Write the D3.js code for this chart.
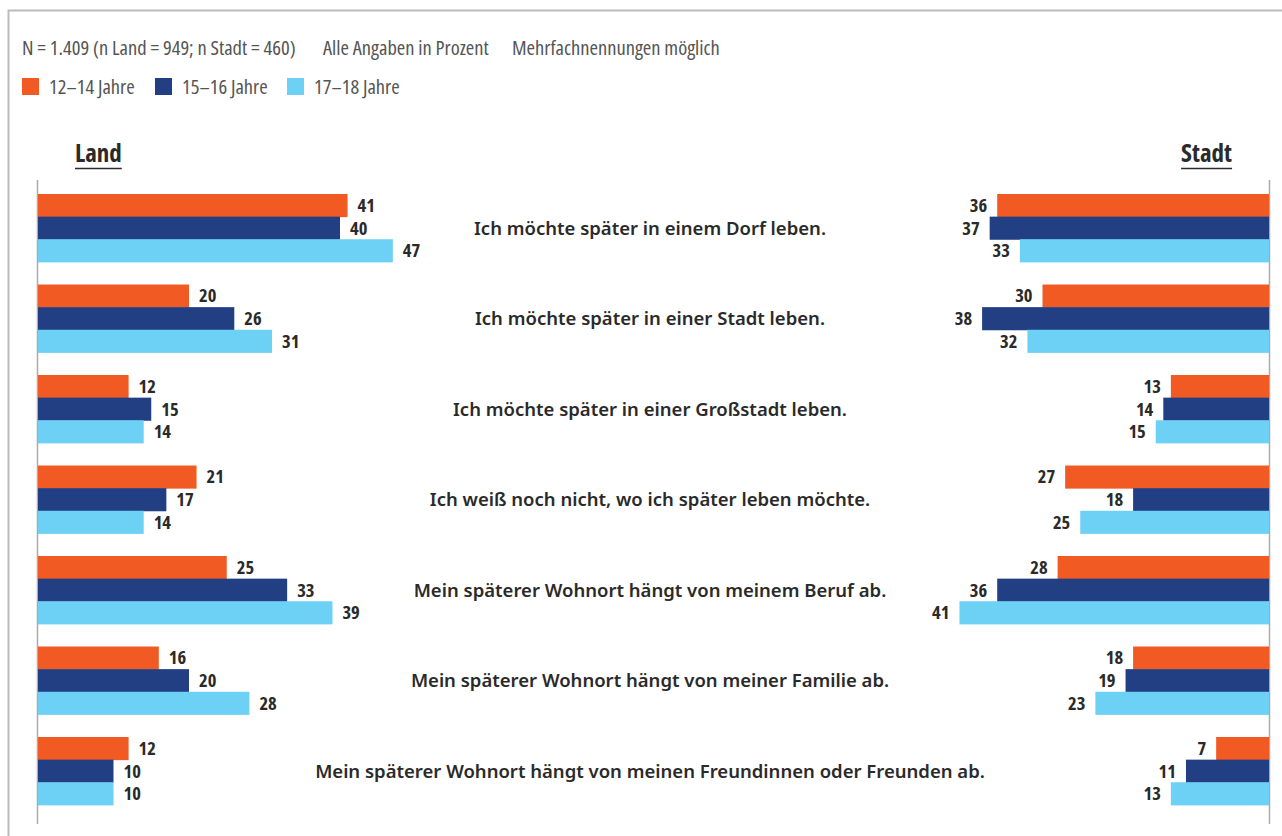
<!DOCTYPE html>
<html>
<head>
<meta charset="utf-8">
<script src="https://cdn.jsdelivr.net/npm/d3@7"></script>
<style>
  body { margin: 0; background: #fff; }
  svg { display: block; }
  .cond { font-family: "Open Sans", "Liberation Sans Narrow", "DejaVu Sans Condensed", sans-serif; font-stretch: condensed; }
  .note { font-size: 20.5px; fill: #555; }
  .val { font-size: 18.5px; font-weight: 700; fill: #2a2a2a; }
  .head { font-size: 25px; font-weight: 700; fill: #2a2a2a; }
  .cat { font-family: "Noto Sans", "Open Sans", sans-serif; font-size: 18.5px; font-weight: 600; fill: #2a2a2a; }
</style>
</head>
<body>
<svg width="1282" height="836"></svg>
<script>
// data
const categories = [
  'Ich möchte später in einem Dorf leben.',
  'Ich möchte später in einer Stadt leben.',
  'Ich möchte später in einer Großstadt leben.',
  'Ich weiß noch nicht, wo ich später leben möchte.',
  'Mein späterer Wohnort hängt von meinem Beruf ab.',
  'Mein späterer Wohnort hängt von meiner Familie ab.',
  'Mein späterer Wohnort hängt von meinen Freundinnen oder Freunden ab.'
];
const ageGroups = ['12–14 Jahre', '15–16 Jahre', '17–18 Jahre'];
const colors = ['#f15a22', '#223f84', '#6dd0f5'];

// one array per age group, in category order
const land12 = [41, 20, 12, 21, 25, 16, 12];
const land15 = [40, 26, 15, 17, 33, 20, 10];
const land17 = [47, 31, 14, 14, 39, 28, 10];
const stadt12 = [36, 30, 13, 27, 28, 18, 7];
const stadt15 = [37, 38, 14, 18, 36, 19, 11];
const stadt17 = [33, 32, 15, 25, 41, 23, 13];

const notes = ['N = 1.409 (n Land = 949; n Stadt = 460)', 'Alle Angaben in Prozent', 'Mehrfachnennungen möglich'];

const landSeries = [land12, land15, land17];
const stadtSeries = [stadt12, stadt15, stadt17];

const svg = d3.select('svg');

// frame
svg.append('path')
    .attr('d', 'M8.5,836 V10.5 H1282')
    .attr('fill', 'none')
    .attr('stroke', '#bbb')
    .attr('stroke-width', 2);

// header notes
const noteX = [22, 323, 512];
svg.selectAll('.note').data(notes)
  .enter().append('text')
    .attr('class', 'note cond')
    .attr('x', (d, i) => noteX[i])
    .attr('y', 55)
    .text(d => d);

// legend
const legendX = [22, 155, 287];
const legend = svg.selectAll('.legend').data(ageGroups)
  .enter().append('g')
    .attr('transform', (d, i) => `translate(${legendX[i]}, 78)`);
legend.append('rect')
    .attr('width', 17).attr('height', 17)
    .attr('fill', (d, i) => colors[i]);
legend.append('text')
    .attr('class', 'note cond')
    .attr('x', 27).attr('y', 16)
    .text(d => d);

// scales
const y = d3.scaleBand()
    .domain(categories)
    .range([182.7, 816.2])
    .paddingInner(0.25)
    .paddingOuter(0.125);
const ySub = d3.scaleBand()
    .domain(d3.range(3))
    .range([0, y.bandwidth()]);
const w = d3.scaleLinear().domain([0, 100]).range([0, 755]);

const leftX = 38, rightX = 1269;

// axis lines
svg.append('line')
    .attr('x1', leftX - 0.5).attr('x2', leftX - 0.5)
    .attr('y1', 180).attr('y2', 824)
    .attr('stroke', '#aaa').attr('stroke-width', 1.5);
svg.append('line')
    .attr('x1', rightX + 0.5).attr('x2', rightX + 0.5)
    .attr('y1', 180).attr('y2', 824)
    .attr('stroke', '#aaa').attr('stroke-width', 1.5);

// side titles
const heads = [
  { text: 'Land', x: 75, anchor: 'start' },
  { text: 'Stadt', x: 1232, anchor: 'end' }
];
heads.forEach(h => {
  const t = svg.append('text')
      .attr('class', 'head cond')
      .attr('x', h.x).attr('y', 162)
      .attr('text-anchor', h.anchor)
      .text(h.text);
  const bb = t.node().getBBox();
  svg.append('line')
      .attr('x1', bb.x).attr('x2', bb.x + bb.width)
      .attr('y1', 168.5).attr('y2', 168.5)
      .attr('stroke', '#2a2a2a').attr('stroke-width', 1.5);
});

// bars
const groups = svg.selectAll('.grp').data(categories)
  .enter().append('g')
    .attr('transform', d => `translate(0, ${y(d)})`);

groups.each(function(cat, ci) {
  const g = d3.select(this);
  landSeries.forEach((s, si) => {
    const v = s[ci];
    g.append('rect')
        .attr('x', leftX)
        .attr('y', ySub(si))
        .attr('width', w(v))
        .attr('height', ySub.bandwidth() + 0.5)
        .attr('fill', colors[si]);
    g.append('text')
        .attr('class', 'val cond')
        .attr('x', leftX + w(v) + 10)
        .attr('y', ySub(si) + ySub.bandwidth() / 2)
        .attr('dy', '0.36em')
        .text(v);
  });
  stadtSeries.forEach((s, si) => {
    const v = s[ci];
    g.append('rect')
        .attr('x', rightX - w(v))
        .attr('y', ySub(si))
        .attr('width', w(v))
        .attr('height', ySub.bandwidth() + 0.5)
        .attr('fill', colors[si]);
    g.append('text')
        .attr('class', 'val cond')
        .attr('x', rightX - w(v) - 10)
        .attr('y', ySub(si) + ySub.bandwidth() / 2)
        .attr('dy', '0.36em')
        .attr('text-anchor', 'end')
        .text(v);
  });
  g.append('text')
      .attr('class', 'cat')
      .attr('x', 650)
      .attr('y', y.bandwidth() / 2)
      .attr('dy', '0.36em')
      .attr('text-anchor', 'middle')
      .text(cat);
});
</script>
</body>
</html>
